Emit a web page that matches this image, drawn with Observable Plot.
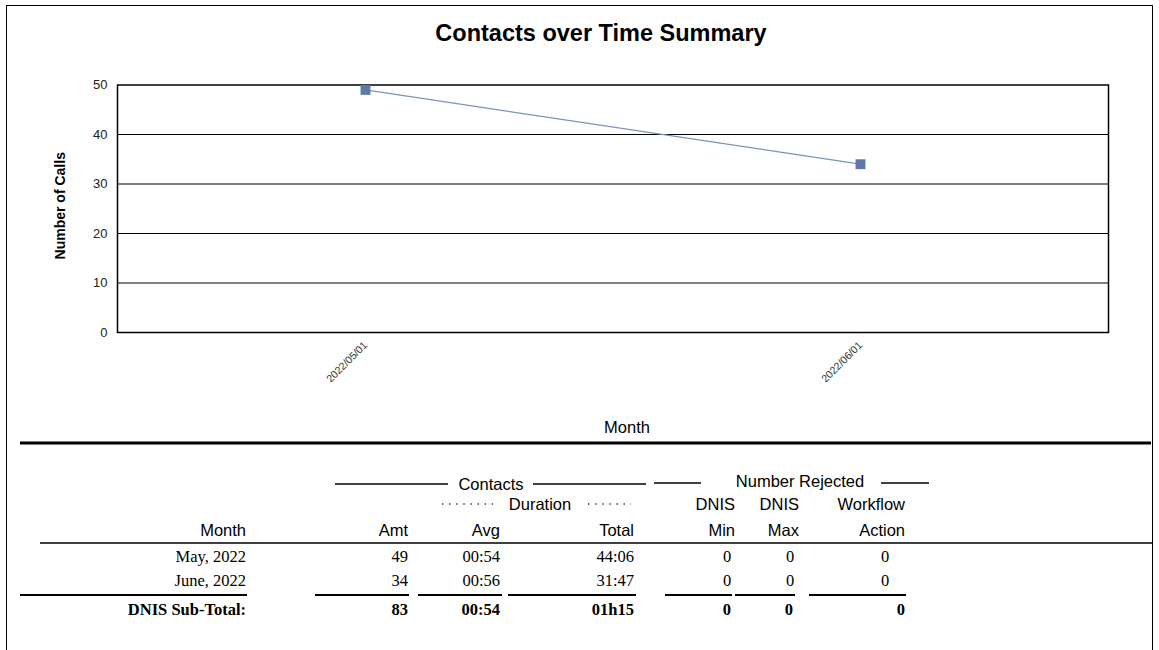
<!DOCTYPE html>
<html>
<head>
<meta charset="utf-8">
<script src="https://cdn.jsdelivr.net/npm/d3@7"></script>
<script src="https://cdn.jsdelivr.net/npm/@observablehq/plot@0.6"></script>
<style>
  html, body { margin: 0; padding: 0; background: #fff; }
  #page { position: relative; width: 1159px; height: 650px; overflow: hidden; background: #fff; }
  #border { position: absolute; left: 6px; top: 5px; width: 1145px; height: 700px; border: 1.5px solid #000; }
  #chart { position: absolute; left: 0; top: 60px; }
  #overlay { position: absolute; left: 0; top: 0; }
</style>
</head>
<body>
<div id="page">
  <div id="border"></div>
  <div id="chart"></div>
  <svg id="overlay" width="1159" height="650"></svg>
</div>
<script>
// ---- Chart data ----
const months = ["2022/05/01", "2022/06/01"];
const calls = [49, 34];
const yTicks = [0, 10, 20, 30, 40, 50];

// ---- Table data ----
const tableMonths = ["May, 2022", "June, 2022"];
const amt = ["49", "34"];
const avgDur = ["00:54", "00:56"];
const totalDur = ["44:06", "31:47"];
const dnisMin = ["0", "0"];
const dnisMax = ["0", "0"];
const workflowAction = ["0", "0"];
const subTotal = ["DNIS Sub-Total:", "83", "00:54", "01h15", "0", "0", "0"];

const title = "Contacts over Time Summary";

const sans = "'Liberation Sans', Arial, sans-serif";
const serif = "'Liberation Serif', 'Times New Roman', serif";

const data = months.map((m, i) => ({month: m, calls: calls[i]}));

const chart = Plot.plot({
  width: 1159,
  height: 380,
  marginLeft: 117,
  marginRight: 51,
  marginTop: 24.5,
  marginBottom: 108,
  style: {fontFamily: sans, background: "transparent", color: "#222"},
  x: {type: "point", domain: months, padding: 0.5},
  y: {domain: [0, 50]},
  marks: [
    Plot.gridY(yTicks.slice(1, -1), {stroke: "#000", strokeOpacity: 1, strokeWidth: 1}),
    Plot.frame({stroke: "#000", strokeWidth: 1.5}),
    Plot.axisY({ticks: yTicks, tickSize: 0, tickPadding: 10, fontSize: 13, label: null}),
    Plot.axisX({tickSize: 0, tickPadding: 11, tickRotate: -45, fontSize: 10.5, label: null, fill: "#333"}),
    Plot.line(data, {x: "month", y: "calls", stroke: "#7d92bb", strokeWidth: 1.2}),
    Plot.dot(data, {x: "month", y: "calls", symbol: "square", r: 5.6, fill: "#5f7aa8", stroke: "none"}),
    Plot.text(["Number of Calls"], {frameAnchor: "left", textAnchor: "middle", dx: -57, dy: -3, rotate: -90, fontWeight: "bold", fontSize: 14, fill: "#000"}),
    Plot.text(["Month"], {frameAnchor: "bottom", dx: 14, dy: 100, fontSize: 16.5, fill: "#000"})
  ]
});
document.getElementById("chart").appendChild(chart);

// ---- Title and table overlay ----
const svg = d3.select("#overlay");

svg.append("text")
  .attr("x", 601).attr("y", 41)
  .attr("text-anchor", "middle")
  .attr("font-family", sans).attr("font-weight", "bold").attr("font-size", 23.5)
  .attr("fill", "#000")
  .text(title);

function line(x1, x2, y, w, dash) {
  const l = svg.append("line").attr("x1", x1).attr("x2", x2).attr("y1", y).attr("y2", y)
    .attr("stroke", dash ? "#333" : "#000").attr("stroke-width", w);
  if (dash) l.attr("stroke-dasharray", dash);
  return l;
}
function txt(x, y, s, opts = {}) {
  svg.append("text").attr("x", x).attr("y", y)
    .attr("text-anchor", opts.anchor || "end")
    .attr("font-family", opts.font || sans)
    .attr("font-size", opts.size || 16.5)
    .attr("font-weight", opts.bold ? "bold" : "normal")
    .attr("fill", "#000")
    .text(s);
}

// separator under chart
line(20, 1151, 443, 3);

// group headers
line(335, 448, 484, 1.5);
txt(491, 490, "Contacts", {anchor: "middle"});
line(533, 646, 484, 1.5);
line(654, 701, 483, 1.5);
txt(800, 487, "Number Rejected", {anchor: "middle"});
line(881, 929, 483, 1.5);

// duration sub-header
line(442, 493, 504, 1.4, "1.4,5.7");
txt(540, 510, "Duration", {anchor: "middle"});
line(588, 631, 504, 1.4, "1.4,5.7");

// column headers
txt(735, 510, "DNIS");
txt(799, 510, "DNIS");
txt(905, 510, "Workflow");

const headRow = [["Month", 246], ["Amt", 408], ["Avg", 500], ["Total", 634], ["Min", 735], ["Max", 799], ["Action", 905]];
headRow.forEach(([s, x]) => txt(x, 536, s));

line(40, 1152, 543, 1.5);

// data rows
const rowBase = [562, 586];
tableMonths.forEach((m, i) => {
  const y = rowBase[i];
  txt(246, y, m, {font: serif});
  txt(408, y, amt[i], {font: serif});
  txt(500, y, avgDur[i], {font: serif});
  txt(634, y, totalDur[i], {font: serif});
  txt(727, y, dnisMin[i], {font: serif, anchor: "middle"});
  txt(790, y, dnisMax[i], {font: serif, anchor: "middle"});
  txt(885, y, workflowAction[i], {font: serif, anchor: "middle"});
});

// sub-total rules
[[20, 247], [315, 409], [418, 502], [508, 636], [665, 732], [735, 795], [809, 906]]
  .forEach(([a, b]) => line(a, b, 595, 2));

// sub-total row
const subX = [246, 408, 500, 634, 731, 793, 905];
subTotal.forEach((s, i) => txt(subX[i], 615, s, {font: serif, bold: true}));
</script>
</body>
</html>
